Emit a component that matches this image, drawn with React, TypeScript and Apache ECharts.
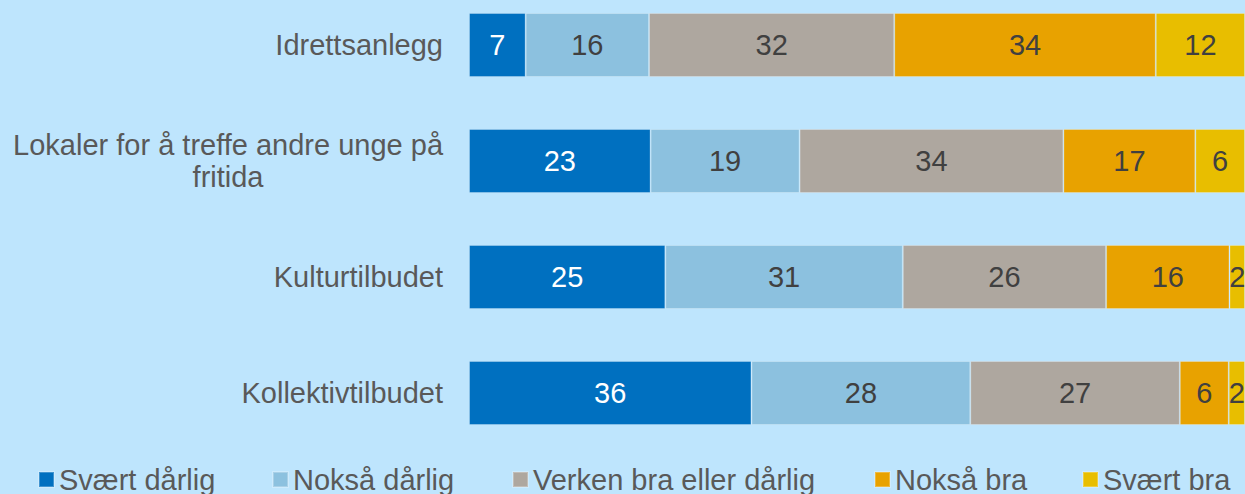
import React, { useEffect, useRef } from "react";
import * as echarts from "echarts";

const categories = [
  "Idrettsanlegg",
  "Lokaler for å treffe andre unge på\nfritida",
  "Kulturtilbudet",
  "Kollektivtilbudet",
];
const seriesNames = [
  "Svært dårlig",
  "Nokså dårlig",
  "Verken bra eller dårlig",
  "Nokså bra",
  "Svært bra",
];
const svaertDarlig = [7.3, 23.4, 25.3, 36.4];
const noksaDarlig = [15.9, 19.2, 30.6, 28.2];
const verken = [31.6, 34.0, 26.2, 27.0];
const noksaBra = [33.7, 17.0, 15.9, 6.3];
const svaertBra = [11.5, 6.4, 2.0, 2.1];

const seriesValues = [svaertDarlig, noksaDarlig, verken, noksaBra, svaertBra];
const colors = ["#0070C0", "#8CC1DF", "#AEA79F", "#E8A200", "#E8BE00"];
const labelColors = ["#FFFFFF", "#404040", "#404040", "#404040", "#404040"];
const legendLefts = [38, 272, 512, 874, 1082];

const FONT = '"Liberation Sans", Arial, sans-serif';
const FS = 29;

export default function App() {
  const ref = useRef<HTMLDivElement>(null);
  useEffect(() => {
    if (!ref.current) return;
    const chart = echarts.init(ref.current, undefined, { renderer: "svg" });

    const canvas = document.createElement("canvas");
    const ctx = canvas.getContext("2d")!;
    ctx.font = `${FS}px ${FONT}`;

    const yData = categories.map((c) => {
      if (c.indexOf("\n") >= 0) {
        const lines = c.split("\n");
        const w = Math.max(...lines.map((l) => ctx.measureText(l).width));
        return {
          value: c,
          textStyle: {
            align: "center",
            padding: [0, w, 0, 0],
            lineHeight: 32,
          },
        };
      }
      return { value: c };
    });

    const option: any = {
      animation: false,
      backgroundColor: "#BEE5FD",
      textStyle: { fontFamily: FONT },
      grid: { left: 469, right: 0, top: 45, height: 348, containLabel: false },
      xAxis: {
        type: "value",
        min: 0,
        max: 100,
        show: false,
      },
      yAxis: {
        type: "category",
        inverse: true,
        boundaryGap: false,
        data: yData,
        axisLine: { show: false },
        axisTick: { show: false },
        splitLine: { show: false },
        axisLabel: {
          margin: 26,
          fontSize: FS,
          color: "#595959",
          fontFamily: FONT,
        },
      },
      legend: seriesNames.map((n, i) => ({
        data: [n],
        left: legendLefts[i],
        top: 465,
        padding: 0,
        icon: "rect",
        itemWidth: 15,
        itemHeight: 15,
        textStyle: { fontSize: FS, color: "#595959", fontFamily: FONT },
      })),
      series: seriesNames.map((n, i) => ({
        name: n,
        type: "bar",
        stack: "total",
        barWidth: 64,
        clip: false,
        data: seriesValues[i],
        itemStyle: {
          color: colors[i],
          borderColor: "rgba(255,255,255,0.25)",
          borderWidth: 1,
        },
        label: {
          show: true,
          position: "inside",
          fontSize: FS,
          fontFamily: FONT,
          color: labelColors[i],
          formatter: (p: any) => String(Math.round(p.value)),
        },
      })),
    };
    chart.setOption(option);
    return () => chart.dispose();
  }, []);
  return (
    <div
      ref={ref}
      style={{ position: "absolute", left: 0, top: 0, width: 1245, height: 494 }}
    />
  );
}
